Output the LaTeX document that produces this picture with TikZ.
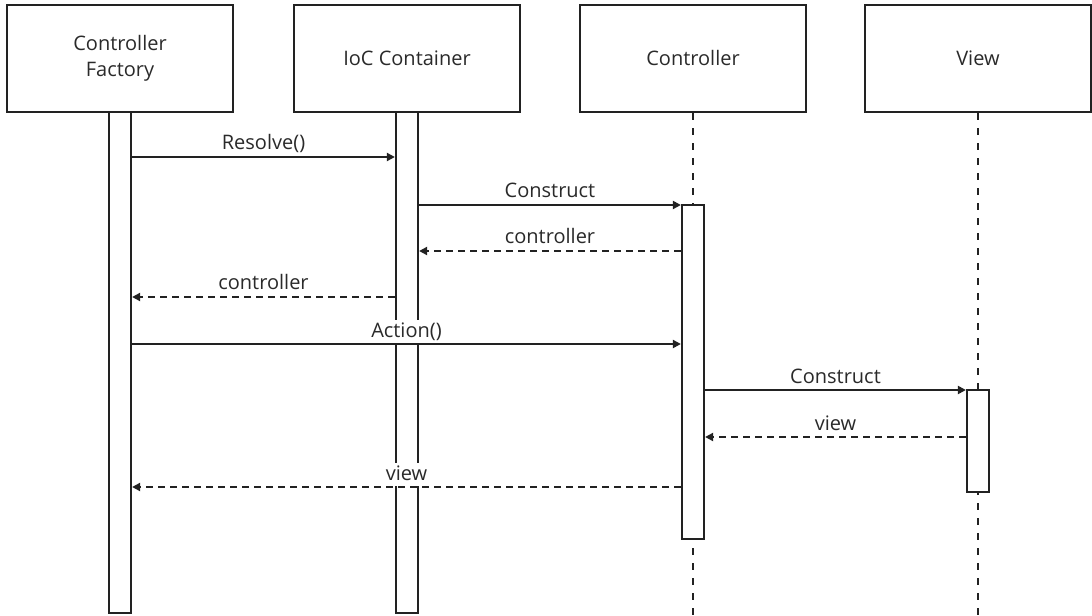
\documentclass[tikz,border=0pt]{standalone}
\usepackage{fontspec}
\setmainfont{Open Sans}
\usetikzlibrary{arrows.meta}
\definecolor{ln}{HTML}{222222}
\definecolor{tx}{HTML}{2a2a2a}
\begin{document}
\begin{tikzpicture}[x=1bp,y=-1bp,
  txtfont/.style={font=\fontsize{20bp}{26bp}\selectfont, text=tx},
  head/.style={draw=ln, line width=2.2bp, minimum width=226bp, minimum height=107bp,
    align=center, inner sep=0pt, txtfont},
  actbar/.style={draw=ln, fill=white, line width=2.2bp, minimum width=22bp, inner sep=0pt},
  lifeline/.style={draw=ln, line width=2.2bp, dash pattern=on 7bp off 8bp},
  msg/.style={draw=ln, line width=2.2bp, -{Triangle[length=8bp,width=8bp]}},
  ret/.style={msg, dash pattern=on 7bp off 5bp},
  lbl/.style={midway, anchor=base, yshift=7bp, fill=white, inner sep=2bp,
    text height=15bp, text depth=4bp, txtfont}]
\useasboundingbox (0,0) rectangle (1092,616);

% heads
\node[head] (fhead) at (120,58.5) {Controller\\Factory};
\node[head] (ihead) at (407,58.5) {IoC Container};
\node[head] (chead) at (693,58.5) {Controller};
\node[head] (vhead) at (978,58.5) {View};

% lifelines
\coordinate (cend) at (693,616);
\coordinate (vend) at (978,616);
\draw[lifeline] (chead.south) -- (cend);
\draw[lifeline] (vhead.south) -- (vend);

% activation bars
\node[actbar, minimum height=501bp] (fbar) at (120,362.5) {};
\node[actbar, minimum height=501bp] (ibar) at (407,362.5) {};
\node[actbar, minimum height=334bp] (cbar) at (693,372) {};
\node[actbar, minimum height=102bp] (vbar) at (978,441) {};

% message rows
\coordinate (m1) at (0,157);
\coordinate (m2) at (0,205);
\coordinate (m3) at (0,251);
\coordinate (m4) at (0,297);
\coordinate (m5) at (0,344);
\coordinate (m6) at (0,390);
\coordinate (m7) at (0,437);
\coordinate (m8) at (0,487);

\draw[msg] (fbar.east |- m1) -- (ibar.west |- m1);
\draw[msg] (ibar.east |- m2) -- (cbar.west |- m2);
\draw[ret] (cbar.west |- m3) -- (ibar.east |- m3);
\draw[ret] (ibar.west |- m4) -- (fbar.east |- m4);
\draw[msg] (fbar.east |- m5) -- (cbar.west |- m5);
\draw[msg] (cbar.east |- m6) -- (vbar.west |- m6);
\draw[ret] (vbar.west |- m7) -- (cbar.east |- m7);
\draw[ret] (cbar.west |- m8) -- (fbar.east |- m8);

% labels
\path (fbar.east |- m1) -- node[lbl] (l1) {Resolve()} (ibar.west |- m1);
\path (ibar.east |- m2) -- node[lbl] (l2) {Construct} (cbar.west |- m2);
\path (cbar.west |- m3) -- node[lbl] (l3) {controller} (ibar.east |- m3);
\path (ibar.west |- m4) -- node[lbl] (l4) {controller} (fbar.east |- m4);
\path (fbar.east |- m5) -- node[lbl] (l5) {Action()} (cbar.west |- m5);
\path (cbar.east |- m6) -- node[lbl] (l6) {Construct} (vbar.west |- m6);
\path (vbar.west |- m7) -- node[lbl] (l7) {view} (cbar.east |- m7);
\path (cbar.west |- m8) -- node[lbl] (l8) {view} (fbar.east |- m8);
\end{tikzpicture}
\end{document}
